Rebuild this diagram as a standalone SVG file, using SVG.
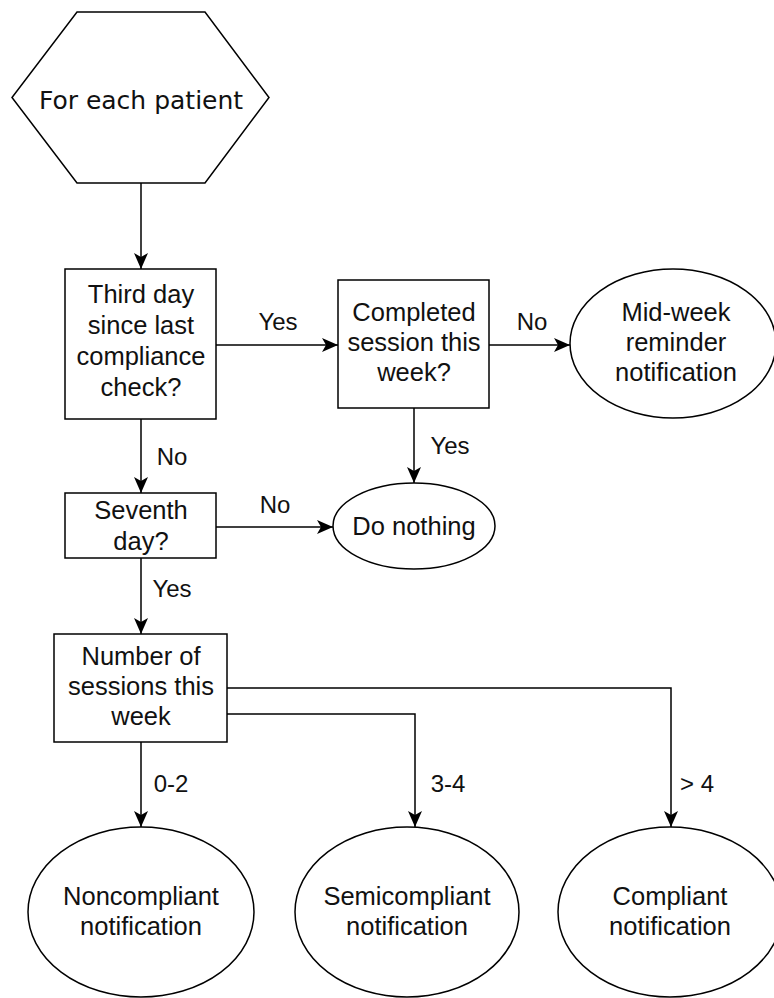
<svg xmlns="http://www.w3.org/2000/svg" width="774" height="998" viewBox="0 0 774 998">
<style>
.shape{fill:#fff;stroke:#000;stroke-width:1.5}
.edge{fill:none;stroke:#000;stroke-width:1.5}
.t{font-family:"Liberation Sans",Arial,Helvetica,sans-serif;font-size:25.5px;fill:#111;text-anchor:middle}
.lbl{font-family:"Liberation Sans",Arial,Helvetica,sans-serif;font-size:24px;fill:#111;text-anchor:middle}
.hx{font-family:"DejaVu Sans",Verdana,sans-serif;font-size:25px;fill:#111;text-anchor:middle}
</style>
<defs>
<marker id="arr" markerUnits="userSpaceOnUse" markerWidth="18" markerHeight="16" refX="16" refY="7" orient="auto">
<path d="M0,0 L16,7 L0,14 L4,7 Z" fill="#000"/>
</marker>
</defs>
<rect width="774" height="998" fill="#fff"/>
<g id="connectors">
<path class="edge" d="M141,183 V269" marker-end="url(#arr)"/>
<path class="edge" d="M216,345 H338" marker-end="url(#arr)"/>
<path class="edge" d="M489,345 H570" marker-end="url(#arr)"/>
<path class="edge" d="M414,408 V483" marker-end="url(#arr)"/>
<path class="edge" d="M141,419 V493" marker-end="url(#arr)"/>
<path class="edge" d="M216,527 H333" marker-end="url(#arr)"/>
<path class="edge" d="M141,558 V634" marker-end="url(#arr)"/>
<path class="edge" d="M141,742 V827" marker-end="url(#arr)"/>
<path class="edge" d="M227,714 H415 V827" marker-end="url(#arr)"/>
<path class="edge" d="M227,688 H671 V827" marker-end="url(#arr)"/>
<text class="lbl" x="278" y="330">Yes</text>
<text class="lbl" x="532" y="330">No</text>
<text class="lbl" x="450" y="454">Yes</text>
<text class="lbl" x="172" y="465">No</text>
<text class="lbl" x="275" y="513">No</text>
<text class="lbl" x="172" y="597">Yes</text>
<text class="lbl" x="171" y="792">0-2</text>
<text class="lbl" x="448" y="792">3-4</text>
<text class="lbl" x="697" y="792">&gt; 4</text>
</g>
<g id="start">
<polygon class="shape" points="77,12 205,12 269,97.5 205,183 77,183 12,97.5"/>
<text class="hx" x="141" y="109">For each patient</text>
</g>
<g id="third-day">
<rect class="shape" x="65" y="269" width="151" height="150"/>
<text class="t" x="141" y="303">Third day</text>
<text class="t" x="141" y="334">since last</text>
<text class="t" x="141" y="365">compliance</text>
<text class="t" x="141" y="396">check?</text>
</g>
<g id="completed">
<rect class="shape" x="338" y="280" width="151" height="128"/>
<text class="t" x="414" y="321">Completed</text>
<text class="t" x="414" y="351">session this</text>
<text class="t" x="414" y="381">week?</text>
</g>
<g id="midweek">
<ellipse class="shape" cx="673" cy="343.5" rx="103" ry="74.5"/>
<text class="t" x="676" y="321">Mid-week</text>
<text class="t" x="676" y="351">reminder</text>
<text class="t" x="676" y="381">notification</text>
</g>
<g id="do-nothing">
<ellipse class="shape" cx="414" cy="526" rx="81" ry="43"/>
<text class="t" x="414" y="535">Do nothing</text>
</g>
<g id="seventh">
<rect class="shape" x="65" y="493" width="151" height="65"/>
<text class="t" x="141" y="519">Seventh</text>
<text class="t" x="141" y="550">day?</text>
</g>
<g id="sessions">
<rect class="shape" x="54" y="634" width="173" height="108"/>
<text class="t" x="141" y="665">Number of</text>
<text class="t" x="141" y="695">sessions this</text>
<text class="t" x="141" y="725">week</text>
</g>
<g id="noncompliant">
<ellipse class="shape" cx="141" cy="912" rx="113" ry="85"/>
<text class="t" x="141" y="905">Noncompliant</text>
<text class="t" x="141" y="935">notification</text>
</g>
<g id="semicompliant">
<ellipse class="shape" cx="407" cy="912" rx="112" ry="85"/>
<text class="t" x="407" y="905">Semicompliant</text>
<text class="t" x="407" y="935">notification</text>
</g>
<g id="compliant">
<ellipse class="shape" cx="670" cy="912" rx="112" ry="85"/>
<text class="t" x="670" y="905">Compliant</text>
<text class="t" x="670" y="935">notification</text>
</g>
</svg>
